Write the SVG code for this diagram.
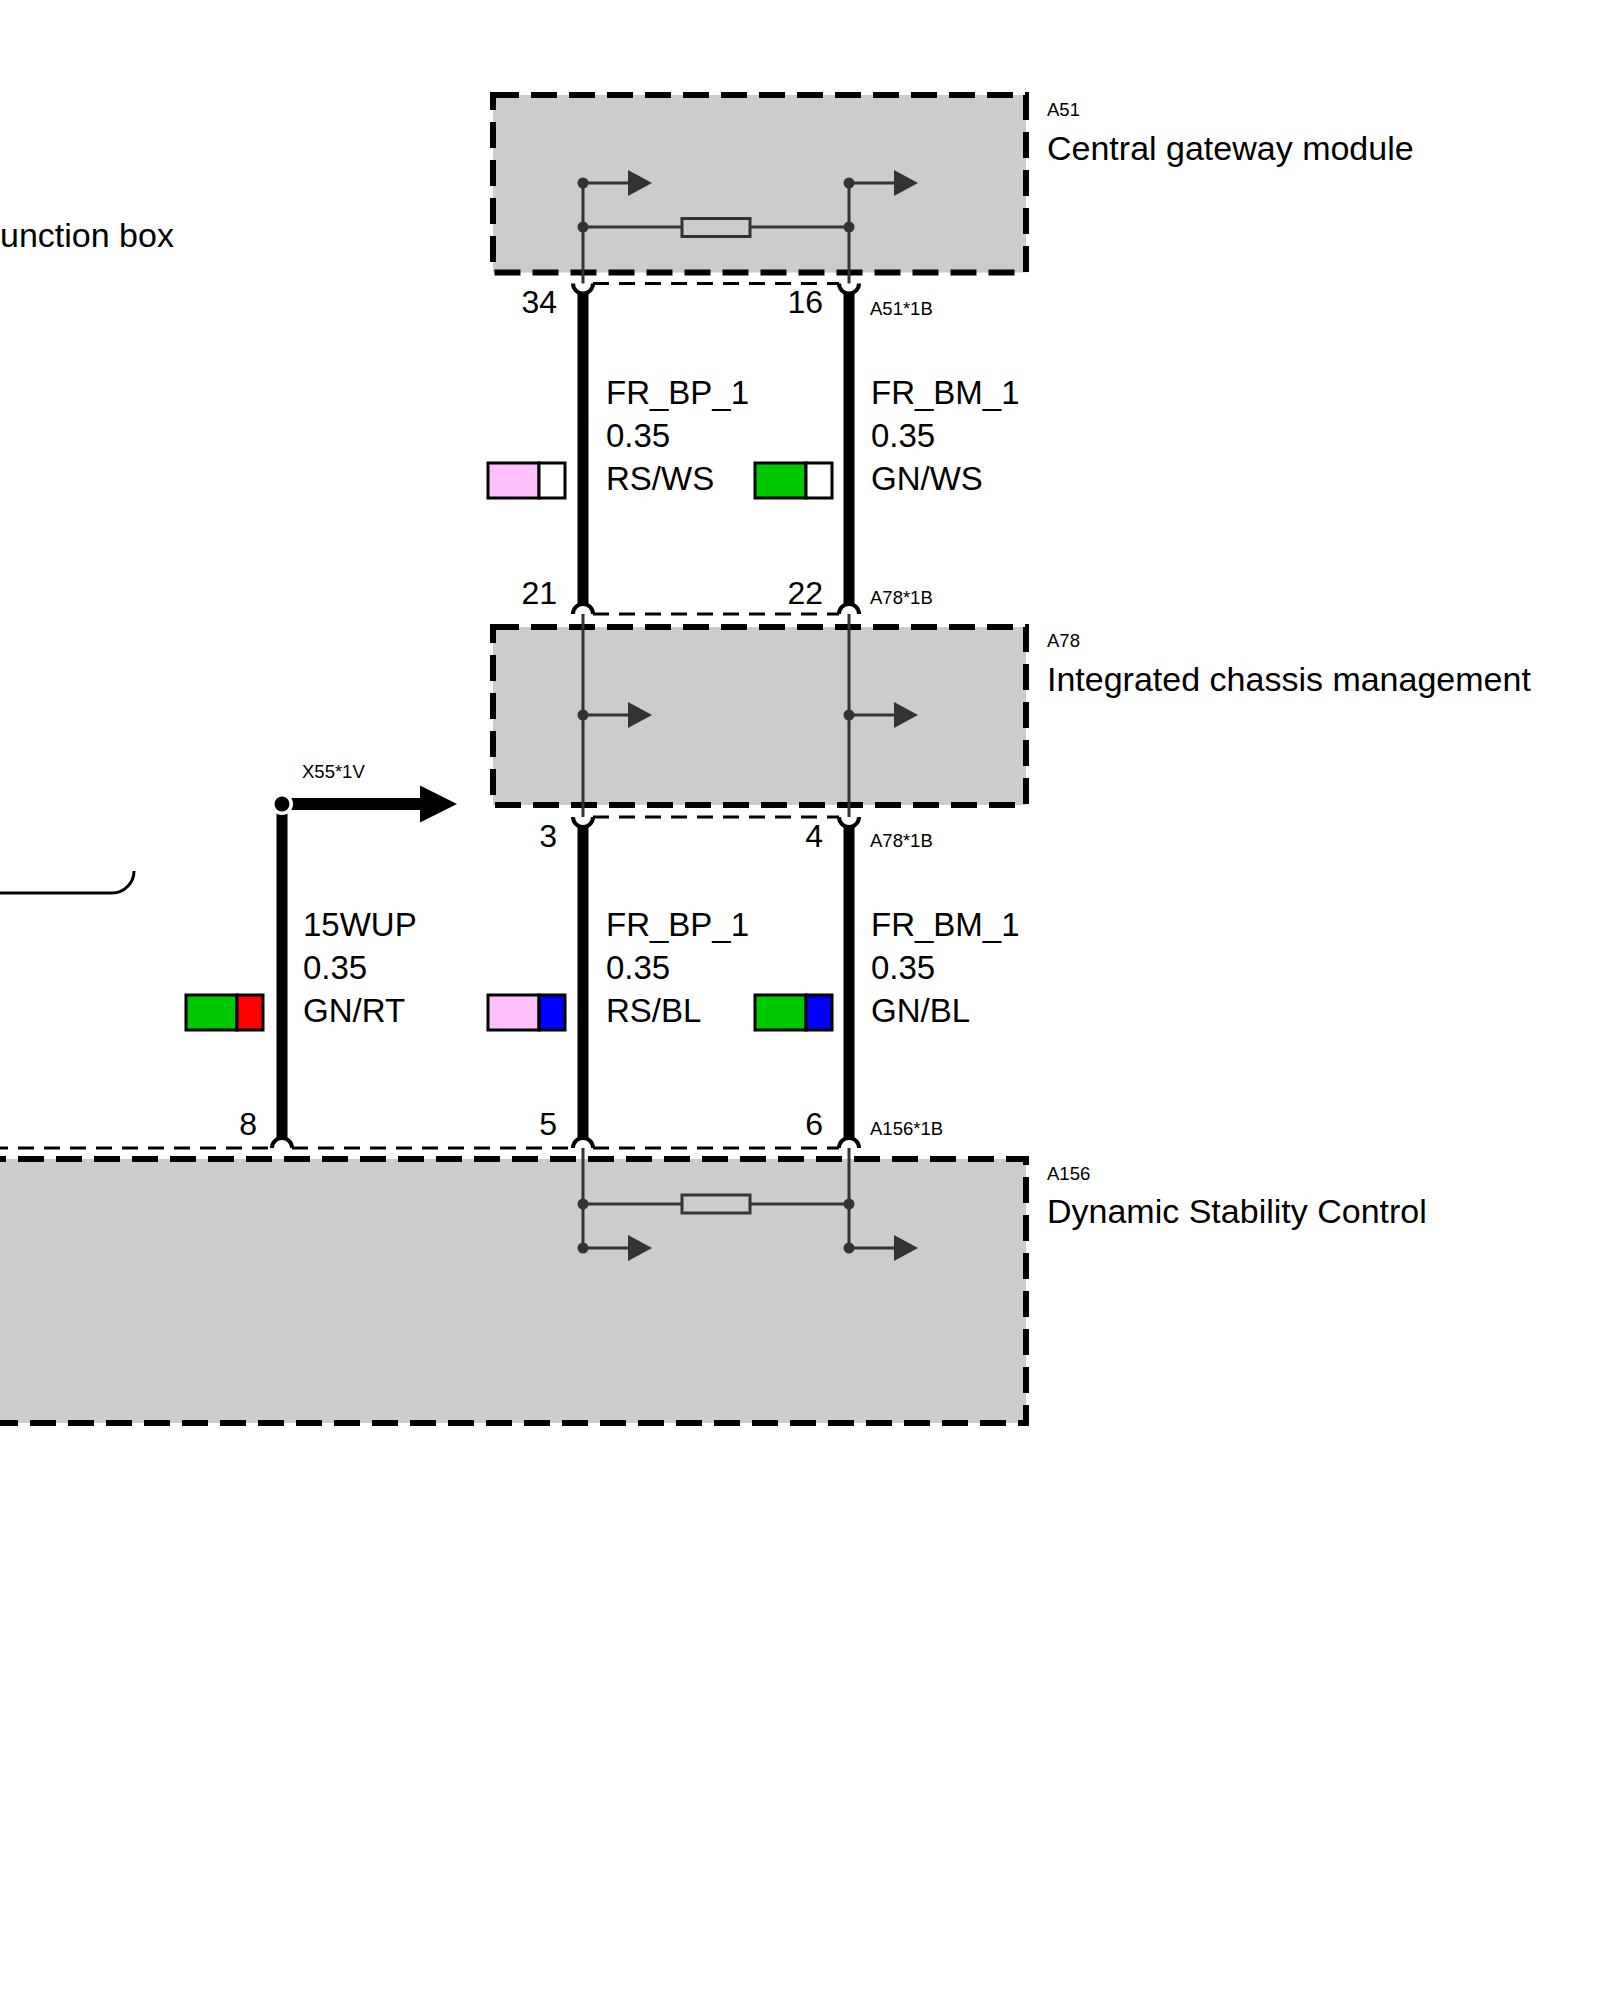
<svg xmlns="http://www.w3.org/2000/svg" width="1600" height="2000" viewBox="0 0 1600 2000">
<style>
  .box{fill:#cccccc;stroke:#000;stroke-width:6;stroke-dasharray:26 12}
  .t{font-family:"Liberation Sans",Arial,sans-serif;fill:#000}
  .name{font-size:34px}
  .id{font-size:18.5px}
  .pin{font-size:32px;text-anchor:end}
  .wl{font-size:33px}
  .inner{stroke:#333;stroke-width:3;fill:none}
  .dot{fill:#333}
  .ah{fill:#333}
  .res{fill:#cccccc;stroke:#333;stroke-width:3}
  .conn{stroke:#000;stroke-width:3;fill:none;stroke-dasharray:16 10}
  .cup{stroke:#000;stroke-width:4;fill:none}
  .wire{stroke:#000;stroke-width:11;fill:none}
  .cb{stroke:#000;stroke-width:3}
</style>

<rect width="1600" height="2000" fill="#fff"/>

<!-- Junction box (partial) -->
<g id="junction-box">
  <path d="M-5,893 H112 A22,22 0 0 0 134,871" fill="none" stroke="#000" stroke-width="3"/>
  <text class="t name" x="0" y="247">unction box</text>
</g>

<!-- A51 -->
<g id="A51">
  <rect class="box" x="493" y="95" width="533" height="177.5"/>
  <line class="inner" x1="583" y1="183" x2="583" y2="283.5"/>
  <line class="inner" x1="849" y1="183" x2="849" y2="283.5"/>
  <line class="inner" x1="583" y1="227" x2="849" y2="227"/>
  <rect class="res" x="682" y="218.5" width="68" height="18"/>
  <line class="inner" x1="583" y1="183" x2="630" y2="183"/>
  <polygon class="ah" points="628,170 652,183 628,196"/>
  <line class="inner" x1="849" y1="183" x2="896" y2="183"/>
  <polygon class="ah" points="894,170 918,183 894,196"/>
  <circle class="dot" cx="583" cy="183" r="5.5"/>
  <circle class="dot" cx="583" cy="227" r="5.5"/>
  <circle class="dot" cx="849" cy="183" r="5.5"/>
  <circle class="dot" cx="849" cy="227" r="5.5"/>
  <text class="t id" x="1047" y="116">A51</text>
  <text class="t name" x="1047" y="160">Central gateway module</text>
</g>

<!-- A78 -->
<g id="A78">
  <rect class="box" x="493" y="627" width="533" height="178"/>
  <line class="inner" x1="583" y1="614" x2="583" y2="817"/>
  <line class="inner" x1="849" y1="614" x2="849" y2="817"/>
  <line class="inner" x1="583" y1="715" x2="630" y2="715"/>
  <polygon class="ah" points="628,702 652,715 628,728"/>
  <line class="inner" x1="849" y1="715" x2="896" y2="715"/>
  <polygon class="ah" points="894,702 918,715 894,728"/>
  <circle class="dot" cx="583" cy="715" r="5.5"/>
  <circle class="dot" cx="849" cy="715" r="5.5"/>
  <text class="t id" x="1047" y="647">A78</text>
  <text class="t name" x="1047" y="691">Integrated chassis management</text>
</g>

<!-- A156 -->
<g id="A156">
  <rect class="box" x="-20" y="1159" width="1046" height="264"/>
  <line class="inner" x1="583" y1="1148" x2="583" y2="1248"/>
  <line class="inner" x1="849" y1="1148" x2="849" y2="1248"/>
  <line class="inner" x1="583" y1="1204" x2="849" y2="1204"/>
  <rect class="res" x="682" y="1195" width="68" height="18"/>
  <line class="inner" x1="583" y1="1248" x2="630" y2="1248"/>
  <polygon class="ah" points="628,1235 652,1248 628,1261"/>
  <line class="inner" x1="849" y1="1248" x2="896" y2="1248"/>
  <polygon class="ah" points="894,1235 918,1248 894,1261"/>
  <circle class="dot" cx="583" cy="1204" r="5.5"/>
  <circle class="dot" cx="583" cy="1248" r="5.5"/>
  <circle class="dot" cx="849" cy="1204" r="5.5"/>
  <circle class="dot" cx="849" cy="1248" r="5.5"/>
  <text class="t id" x="1047" y="1180">A156</text>
  <text class="t name" x="1047" y="1223">Dynamic Stability Control</text>
</g>

<!-- Connectors (plugs) -->
<g id="plug-A51-1B">
  <line class="conn" x1="593" y1="283.5" x2="839" y2="283.5"/>
  <path class="cup" d="M573,283.5 A10,10 0 0 0 593,283.5"/>
  <path class="cup" d="M839,283.5 A10,10 0 0 0 859,283.5"/>
  <text class="t pin" x="557" y="313">34</text>
  <text class="t pin" x="823" y="313">16</text>
  <text class="t id" x="870" y="315">A51*1B</text>
</g>
<g id="plug-A78-1B-top">
  <line class="conn" x1="593" y1="614" x2="839" y2="614"/>
  <path class="cup" d="M573,614 A10,10 0 0 1 593,614"/>
  <path class="cup" d="M839,614 A10,10 0 0 1 859,614"/>
  <text class="t pin" x="557" y="604">21</text>
  <text class="t pin" x="823" y="604">22</text>
  <text class="t id" x="870" y="604">A78*1B</text>
</g>
<g id="plug-A78-1B-bottom">
  <line class="conn" x1="593" y1="817" x2="839" y2="817"/>
  <path class="cup" d="M573,817 A10,10 0 0 0 593,817"/>
  <path class="cup" d="M839,817 A10,10 0 0 0 859,817"/>
  <text class="t pin" x="557" y="847">3</text>
  <text class="t pin" x="823" y="847">4</text>
  <text class="t id" x="870" y="847">A78*1B</text>
</g>
<g id="plug-A156-1B">
  <line class="conn" x1="-8" y1="1148" x2="272" y2="1148"/>
  <line class="conn" x1="292" y1="1148" x2="573" y2="1148"/>
  <line class="conn" x1="593" y1="1148" x2="839" y2="1148"/>
  <path class="cup" d="M272,1148 A10,10 0 0 1 292,1148"/>
  <path class="cup" d="M573,1148 A10,10 0 0 1 593,1148"/>
  <path class="cup" d="M839,1148 A10,10 0 0 1 859,1148"/>
  <text class="t pin" x="257" y="1135">8</text>
  <text class="t pin" x="557" y="1135">5</text>
  <text class="t pin" x="823" y="1135">6</text>
  <text class="t id" x="870" y="1135">A156*1B</text>
</g>

<!-- Wires -->
<g id="wires">
  <line class="wire" x1="583" y1="292" x2="583" y2="606"/>
  <line class="wire" x1="849" y1="292" x2="849" y2="606"/>
  <line class="wire" x1="583" y1="825" x2="583" y2="1140"/>
  <line class="wire" x1="849" y1="825" x2="849" y2="1140"/>
  <line class="wire" x1="282" y1="804" x2="282" y2="1140"/>
  <line x1="282" y1="804" x2="422" y2="804" stroke="#000" stroke-width="12"/>
  <polygon points="420,785.5 457,804 420,822.5" fill="#000"/>
  <circle cx="282" cy="804" r="7.5" fill="#000" stroke="#fff" stroke-width="7"/>
  <circle cx="282" cy="804" r="7.5" fill="#000"/>
  <text class="t id" x="302" y="778">X55*1V</text>
</g>

<!-- Wire labels -->
<g id="wire-labels">
  <text class="t wl" x="606" y="404">FR_BP_1</text>
  <text class="t wl" x="606" y="447">0.35</text>
  <text class="t wl" x="606" y="490">RS/WS</text>
  <text class="t wl" x="871" y="404">FR_BM_1</text>
  <text class="t wl" x="871" y="447">0.35</text>
  <text class="t wl" x="871" y="490">GN/WS</text>
  <text class="t wl" x="606" y="936">FR_BP_1</text>
  <text class="t wl" x="606" y="979">0.35</text>
  <text class="t wl" x="606" y="1022">RS/BL</text>
  <text class="t wl" x="871" y="936">FR_BM_1</text>
  <text class="t wl" x="871" y="979">0.35</text>
  <text class="t wl" x="871" y="1022">GN/BL</text>
  <text class="t wl" x="303" y="936">15WUP</text>
  <text class="t wl" x="303" y="979">0.35</text>
  <text class="t wl" x="303" y="1022">GN/RT</text>
</g>

<!-- Colour codes -->
<g id="colour-codes">
  <rect class="cb" x="488" y="463" width="51" height="35" fill="#ffc0ff"/>
  <rect class="cb" x="539" y="463" width="26" height="35" fill="#ffffff"/>
  <rect class="cb" x="755" y="463" width="51" height="35" fill="#00c800"/>
  <rect class="cb" x="806" y="463" width="26" height="35" fill="#ffffff"/>
  <rect class="cb" x="488" y="995" width="51" height="35" fill="#ffc0ff"/>
  <rect class="cb" x="539" y="995" width="26" height="35" fill="#0000ff"/>
  <rect class="cb" x="755" y="995" width="51" height="35" fill="#00c800"/>
  <rect class="cb" x="806" y="995" width="26" height="35" fill="#0000ff"/>
  <rect class="cb" x="186" y="995" width="51" height="35" fill="#00c800"/>
  <rect class="cb" x="237" y="995" width="26" height="35" fill="#ff0000"/>
</g>
</svg>
